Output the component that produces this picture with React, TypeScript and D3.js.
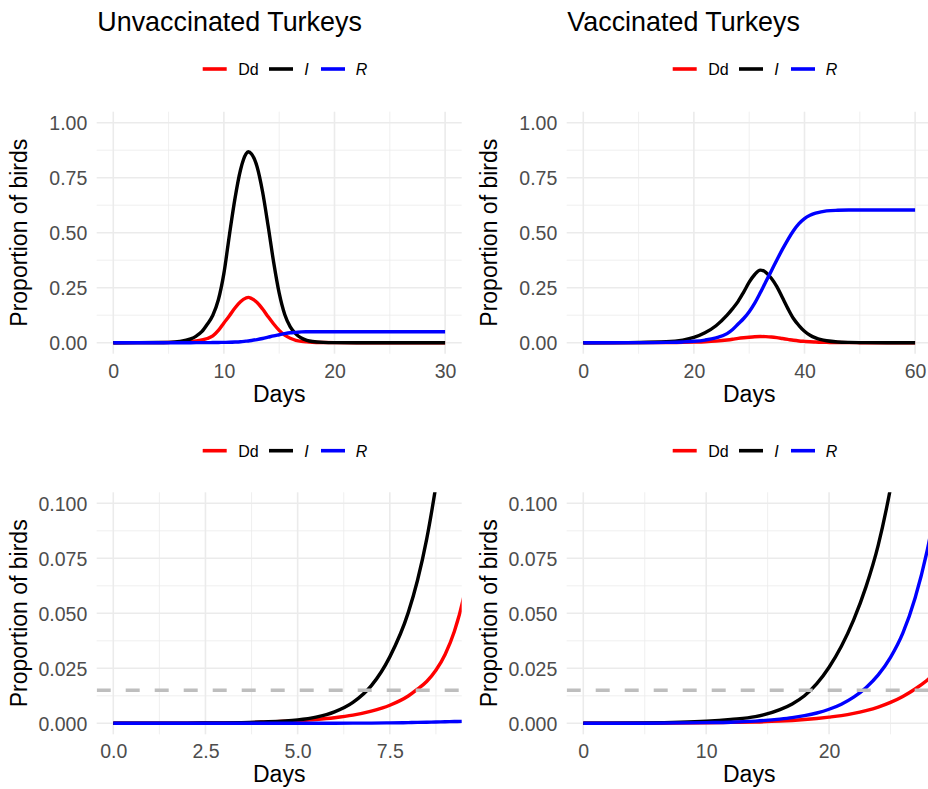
import * as d3 from 'd3';
import React, { useEffect, useRef } from 'react';

const WIDTH = 928;
const HEIGHT = 789;
const PANEL_W = 365;
const PANEL_H = 242;
const FONT = '"Liberation Sans", Arial, Helvetica, sans-serif';

const SERIES = ["Dd", "I", "R"];
const SERIES_COLORS = ["#FF0000", "#000000", "#0000FF"];
const THRESHOLD = 0.015;

// Unvaccinated turkeys, full run (0-30 days)
const unvacDays = [0, 4, 5, 6, 7, 7.5, 8, 8.5, 9, 9.5, 10, 10.5, 11, 11.5, 12, 12.2, 12.5, 13, 13.5, 14, 14.5, 15, 15.5, 16, 16.5, 17, 17.5, 18, 19, 20, 22, 25, 30];
const unvacDd = [0, 0.0005, 0.0012, 0.0025, 0.0055, 0.0082, 0.0124, 0.019, 0.031, 0.056, 0.09, 0.123, 0.158, 0.186, 0.203, 0.206, 0.201, 0.183, 0.153, 0.118, 0.085, 0.056, 0.034, 0.02, 0.011, 0.006, 0.0035, 0.002, 0.0007, 0.0002, 0, 0, 0];
const unvacI = [0, 0.0006, 0.0015, 0.0052, 0.0171, 0.0302, 0.05, 0.084, 0.125, 0.195, 0.315, 0.49, 0.655, 0.785, 0.858, 0.868, 0.858, 0.8, 0.685, 0.53, 0.365, 0.225, 0.128, 0.072, 0.04, 0.021, 0.011, 0.0055, 0.0013, 0.0003, 0, 0, 0];
const unvacR = [0, 0, 0, 0, 0.0001, 0.0002, 0.0003, 0.0004, 0.0006, 0.001, 0.0015, 0.002, 0.003, 0.0045, 0.007, 0.008, 0.01, 0.014, 0.019, 0.025, 0.031, 0.036, 0.041, 0.045, 0.047, 0.049, 0.0497, 0.05, 0.05, 0.05, 0.05, 0.05, 0.05];

// Vaccinated turkeys, full run (0-60 days)
const vacDays = [0, 5, 10, 15, 18, 20, 22, 24, 26, 27, 28, 29, 30, 31, 32, 33, 34, 35, 36, 37, 38, 39, 40, 41, 42, 43, 44, 46, 48, 50, 55, 60];
const vacDd = [0, 0.0001, 0.0002, 0.0008, 0.0015, 0.0028, 0.0045, 0.0074, 0.0122, 0.0156, 0.0195, 0.0225, 0.025, 0.027, 0.028, 0.0275, 0.026, 0.023, 0.019, 0.015, 0.011, 0.008, 0.006, 0.0043, 0.003, 0.002, 0.0015, 0.0006, 0.0002, 0.0001, 0, 0];
const vacI = [0, 0.0002, 0.001, 0.004, 0.012, 0.024, 0.045, 0.077, 0.125, 0.155, 0.188, 0.23, 0.275, 0.31, 0.33, 0.32, 0.293, 0.255, 0.205, 0.155, 0.11, 0.078, 0.052, 0.034, 0.022, 0.014, 0.009, 0.0035, 0.0013, 0.0005, 0, 0];
const vacR = [0, 0.00005, 0.0003, 0.0015, 0.0035, 0.0064, 0.012, 0.022, 0.041, 0.06, 0.085, 0.11, 0.141, 0.18, 0.227, 0.277, 0.326, 0.376, 0.424, 0.469, 0.509, 0.541, 0.564, 0.579, 0.589, 0.595, 0.599, 0.602, 0.603, 0.603, 0.603, 0.603];

// Unvaccinated turkeys, early phase (0-9 days)
const unvacEarlyDays = [0, 1, 2, 3, 4, 5, 5.5, 6, 6.5, 7, 7.5, 8, 8.25, 8.5, 8.75, 9, 9.25, 9.5, 9.75];
const unvacEarlyDd = [0, 0.00004, 0.0001, 0.0002, 0.0005, 0.0012, 0.00175, 0.00254, 0.0037, 0.0055, 0.0082, 0.0124, 0.0155, 0.019, 0.0241, 0.0313, 0.0417, 0.057, 0.08];
const unvacEarlyI = [0, 0.00003, 0.00008, 0.0002, 0.0006, 0.00153, 0.0028, 0.0052, 0.0095, 0.0171, 0.0302, 0.0503, 0.0649, 0.0837, 0.108, 0.137, 0.172, 0.214, 0.264];
const unvacEarlyR = [0, 0, 0, 0, 0, 0.00001, 0.00002, 0.00003, 0.00006, 0.0001, 0.0002, 0.0003, 0.0004, 0.0005, 0.0006, 0.0007, 0.0008, 0.0009, 0.0011];

// Vaccinated turkeys, early phase (0-27 days)
const vacEarlyDays = [0, 5, 10, 12, 14, 16, 17, 18, 19, 20, 21, 22, 23, 24, 25, 26, 27, 28, 28.5];
const vacEarlyDd = [0, 0.00005, 0.0002, 0.0004, 0.0006, 0.001, 0.0013, 0.0017, 0.0022, 0.0028, 0.0035, 0.0045, 0.0058, 0.0074, 0.0095, 0.0122, 0.0156, 0.0197, 0.022];
const vacEarlyI = [0, 0.0002, 0.001, 0.0018, 0.003, 0.0062, 0.0088, 0.0125, 0.018, 0.0255, 0.035, 0.047, 0.062, 0.081, 0.107, 0.14, 0.175, 0.215, 0.235];
const vacEarlyR = [0, 0.00005, 0.0003, 0.0005, 0.001, 0.0019, 0.00256, 0.00348, 0.00468, 0.00638, 0.0087, 0.0119, 0.0162, 0.022, 0.030, 0.041, 0.057, 0.079, 0.093];

const fullYTicks = [0, 0.25, 0.5, 0.75, 1];
const earlyYTicks = [0, 0.025, 0.05, 0.075, 0.1];

interface PanelSpec {
  title?: string;
  left: number;
  top: number;
  legendY: number;
  xDomain: [number, number];
  xTicks: number[];
  xFormat: (v: number) => string;
  yDomain: [number, number];
  yTicks: number[];
  yFormat: (v: number) => string;
  days: number[];
  series: number[][];
  threshold: boolean;
}

const midpoints = (ticks: number[]) => {
  const step = ticks[1] - ticks[0];
  return [ticks[0] - step / 2, ...ticks.map(t => t + step / 2)];
};

const panels: PanelSpec[] = [
  {
    title: "Unvaccinated Turkeys", left: 96.7, top: 111.7, legendY: 69,
    xDomain: [-1.5, 31.5], xTicks: [0, 10, 20, 30], xFormat: d3.format("d"),
    yDomain: [-0.05, 1.05], yTicks: fullYTicks, yFormat: d3.format(".2f"),
    days: unvacDays, series: [unvacDd, unvacI, unvacR], threshold: false
  },
  {
    title: "Vaccinated Turkeys", left: 566.7, top: 111.7, legendY: 69,
    xDomain: [-3, 63], xTicks: [0, 20, 40, 60], xFormat: d3.format("d"),
    yDomain: [-0.05, 1.05], yTicks: fullYTicks, yFormat: d3.format(".2f"),
    days: vacDays, series: [vacDd, vacI, vacR], threshold: false
  },
  {
    left: 96.7, top: 492.3, legendY: 450.7,
    xDomain: [-0.45, 9.45], xTicks: [0, 2.5, 5, 7.5], xFormat: d3.format(".1f"),
    yDomain: [-0.005, 0.105], yTicks: earlyYTicks, yFormat: d3.format(".3f"),
    days: unvacEarlyDays, series: [unvacEarlyDd, unvacEarlyI, unvacEarlyR], threshold: true
  },
  {
    left: 566.7, top: 492.3, legendY: 450.7,
    xDomain: [-1.35, 28.35], xTicks: [0, 10, 20], xFormat: d3.format("d"),
    yDomain: [-0.005, 0.105], yTicks: earlyYTicks, yFormat: d3.format(".3f"),
    days: vacEarlyDays, series: [vacEarlyDd, vacEarlyI, vacEarlyR], threshold: true
  }
];

const drawPanel = (root: d3.Selection<SVGSVGElement, unknown, null, undefined>, p: PanelSpec, idx: number) => {
  const x = d3.scaleLinear().domain(p.xDomain).range([p.left, p.left + PANEL_W]);
  const y = d3.scaleLinear().domain(p.yDomain).range([p.top + PANEL_H, p.top]);
  const bottom = p.top + PANEL_H;
  const g = root.append("g");

  // Grid: minor first, then major
  const xMinor = midpoints(p.xTicks).filter(v => v > p.xDomain[0] && v < p.xDomain[1]);
  const yMinor = midpoints(p.yTicks).filter(v => v > p.yDomain[0] && v < p.yDomain[1]);

  const grid = g.append("g").attr("stroke", "#EBEBEB");
  grid.selectAll(".xminor").data(xMinor).join("line")
    .attr("class", "xminor")
    .attr("x1", d => x(d)).attr("x2", d => x(d))
    .attr("y1", p.top).attr("y2", bottom).attr("stroke-width", 0.8);
  grid.selectAll(".yminor").data(yMinor).join("line")
    .attr("class", "yminor")
    .attr("x1", p.left).attr("x2", p.left + PANEL_W)
    .attr("y1", d => y(d)).attr("y2", d => y(d)).attr("stroke-width", 0.8);
  grid.selectAll(".xmajor").data(p.xTicks).join("line")
    .attr("class", "xmajor")
    .attr("x1", d => x(d)).attr("x2", d => x(d))
    .attr("y1", p.top).attr("y2", bottom).attr("stroke-width", 1.6);
  grid.selectAll(".ymajor").data(p.yTicks).join("line")
    .attr("class", "ymajor")
    .attr("x1", p.left).attr("x2", p.left + PANEL_W)
    .attr("y1", d => y(d)).attr("y2", d => y(d)).attr("stroke-width", 1.6);

  // Clip region
  const clipId = `panel-clip-${idx}`;
  g.append("clipPath").attr("id", clipId)
    .append("rect")
    .attr("x", p.left).attr("y", p.top)
    .attr("width", PANEL_W).attr("height", PANEL_H);

  const plot = g.append("g").attr("clip-path", `url(#${clipId})`);

  const line = d3.line<[number, number]>()
    .x(d => x(d[0]))
    .y(d => y(d[1]))
    .curve(d3.curveMonotoneX);

  p.series.forEach((values, si) => {
    const pts = p.days.map((day, i) => [day, values[i]] as [number, number]);
    plot.append("path")
      .datum(pts)
      .attr("fill", "none")
      .attr("stroke", SERIES_COLORS[si])
      .attr("stroke-width", 3.4)
      .attr("stroke-linejoin", "round")
      .attr("d", line);
  });

  if (p.threshold) {
    plot.append("line")
      .attr("x1", p.left).attr("x2", p.left + PANEL_W)
      .attr("y1", y(THRESHOLD)).attr("y2", y(THRESHOLD))
      .attr("stroke", "#BEBEBE")
      .attr("stroke-width", 3.6)
      .attr("stroke-dasharray", "14 15");
  }

  // Axes (labels only)
  const xAxis = g.append("g")
    .attr("transform", `translate(0,${bottom})`)
    .call(d3.axisBottom(x).tickValues(p.xTicks).tickFormat(v => p.xFormat(v as number)).tickSize(0).tickPadding(10.2));
  xAxis.select(".domain").remove();
  xAxis.selectAll("text")
    .style("font-family", FONT).style("font-size", "19.5px").attr("fill", "#4D4D4D");

  const yAxis = g.append("g")
    .attr("transform", `translate(${p.left},0)`)
    .call(d3.axisLeft(y).tickValues(p.yTicks).tickFormat(v => p.yFormat(v as number)).tickSize(0).tickPadding(9.4));
  yAxis.select(".domain").remove();
  yAxis.selectAll("text")
    .attr("dy", "0.36em")
    .style("font-family", FONT).style("font-size", "19.5px").attr("fill", "#4D4D4D");

  // Axis titles
  g.append("text")
    .attr("x", p.left + PANEL_W / 2).attr("y", bottom + 48)
    .attr("text-anchor", "middle")
    .style("font-family", FONT).style("font-size", "23px")
    .text("Days");

  g.append("text")
    .attr("transform", `translate(${p.left - 69.5},${p.top + PANEL_H / 2}) rotate(-90)`)
    .attr("text-anchor", "middle")
    .style("font-family", FONT).style("font-size", "23px")
    .text("Proportion of birds");

  // Title
  if (p.title) {
    g.append("text")
      .attr("x", p.left + 0.6).attr("y", 30.5)
      .style("font-family", FONT).style("font-size", "26.9px")
      .text(p.title);
  }

  // Legend
  const keyStarts = [106, 172.3, 224.3];
  const labelStarts = [141.6, 207.6, 259];
  const legend = g.append("g");
  SERIES.forEach((name, si) => {
    legend.append("line")
      .attr("x1", p.left + keyStarts[si]).attr("x2", p.left + keyStarts[si] + 24)
      .attr("y1", p.legendY).attr("y2", p.legendY)
      .attr("stroke", SERIES_COLORS[si]).attr("stroke-width", 3.6);
    legend.append("text")
      .attr("x", p.left + labelStarts[si]).attr("y", p.legendY + 5.8)
      .style("font-family", FONT).style("font-size", "16px")
      .style("font-style", name === "Dd" ? "normal" : "italic")
      .text(name);
  });
};

const App: React.FC = () => {
  const svgRef = useRef<SVGSVGElement>(null);

  useEffect(() => {
    if (!svgRef.current) { return; }
    const svg = d3.select(svgRef.current);
    svg.selectAll("*").remove();

    svg.append("rect")
      .attr("width", WIDTH).attr("height", HEIGHT)
      .attr("fill", "white");

    panels.forEach((p, i) => drawPanel(svg, p, i));
  }, []);

  return (
    <div style={{ position: "absolute", left: 0, top: 0 }}>
      <svg ref={svgRef} width={WIDTH} height={HEIGHT} style={{ display: "block" }} />
    </div>
  );
};

export default App;
